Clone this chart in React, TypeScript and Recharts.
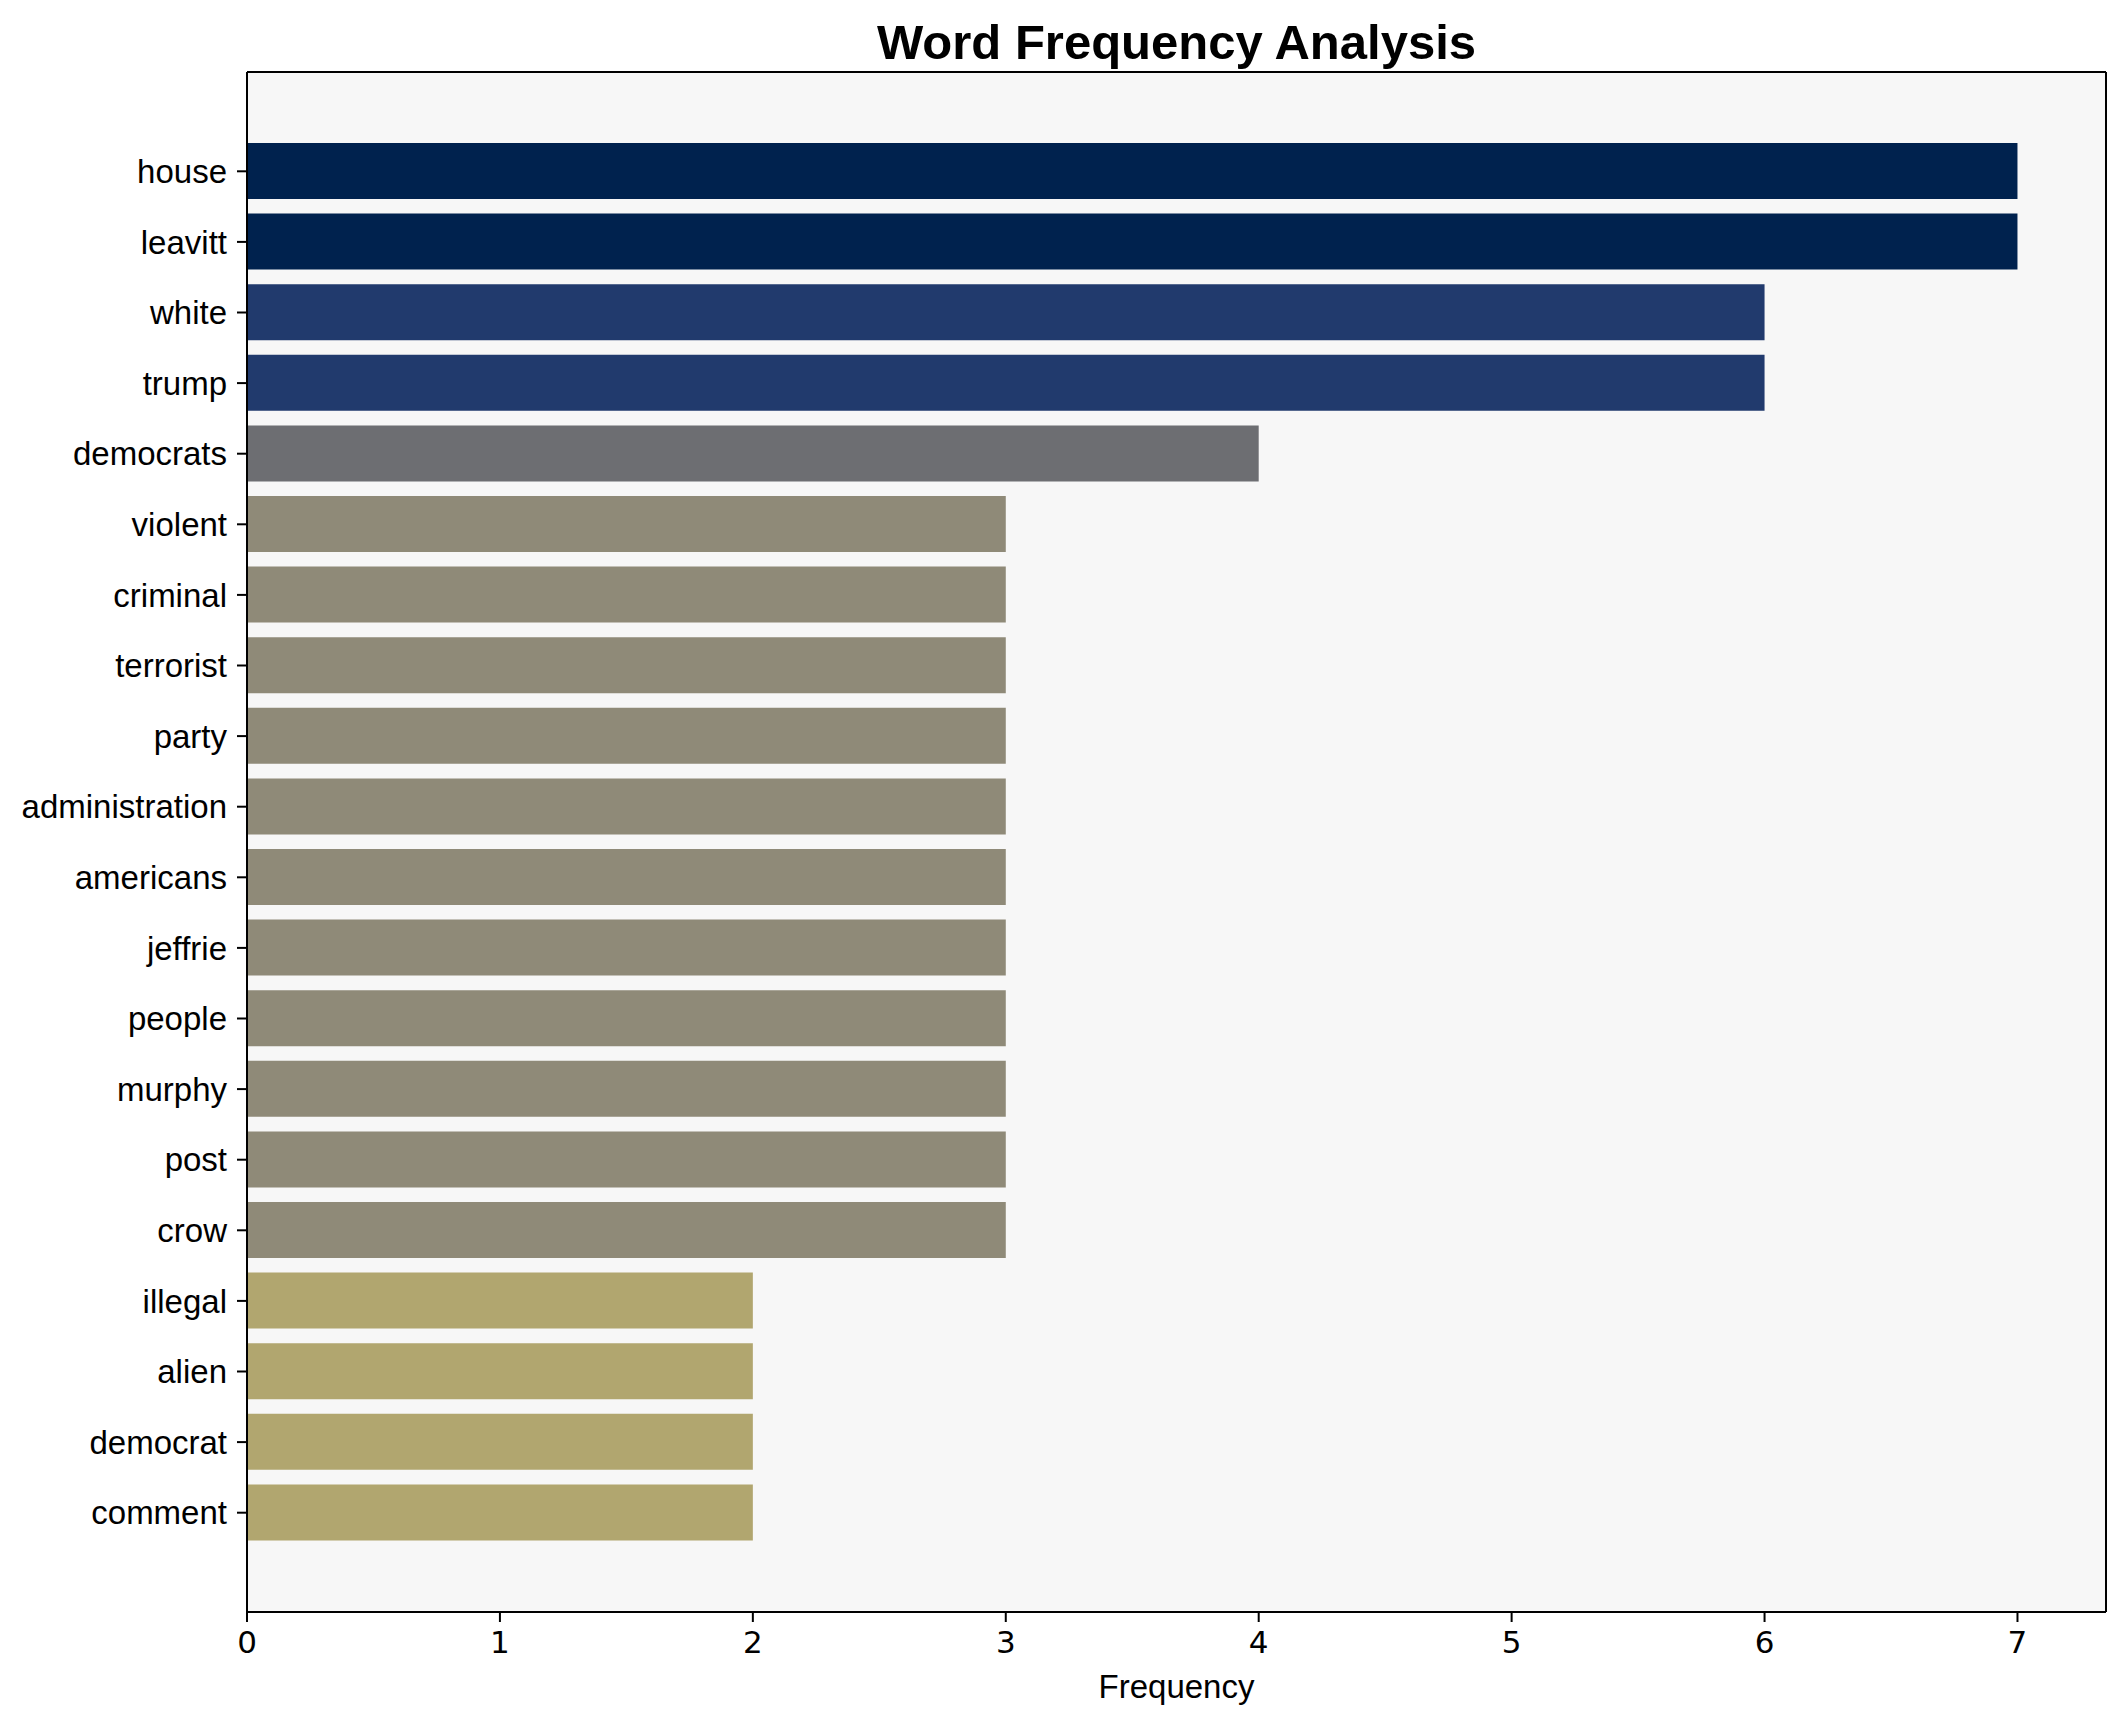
import React from 'react';
import { BarChart, Bar, XAxis, YAxis, CartesianGrid, Cell } from 'recharts';

const words = [
  'house', 'leavitt', 'white', 'trump', 'democrats', 'violent', 'criminal', 'terrorist',
  'party', 'administration', 'americans', 'jeffrie', 'people', 'murphy', 'post', 'crow',
  'illegal', 'alien', 'democrat', 'comment',
];
const counts = [7, 7, 6, 6, 4, 3, 3, 3, 3, 3, 3, 3, 3, 3, 3, 3, 2, 2, 2, 2];
const xTicks = [0, 1, 2, 3, 4, 5, 6, 7];

// colour per frequency value, as in the picture
const COLORS: Record<number, string> = {
  7: '#00224e',
  6: '#213a6d',
  4: '#6d6e72',
  3: '#8f8a78',
  2: '#b1a66f',
};

const data = words.map((word, i) => ({ word, count: counts[i] }));

const W = 2126;
const H = 1722;
const FRAME = '#000';

const App: React.FC = () => {
  return (
    <div style={{ position: 'absolute', left: 0, top: 0, width: W, height: H, background: '#fff' }}>
      <div
        style={{
          position: 'absolute',
          left: 247,
          width: 2106 - 247,
          top: 18,
          textAlign: 'center',
          fontFamily: '"Liberation Sans", Arial, sans-serif',
          fontWeight: 'bold',
          fontSize: 49,
          lineHeight: '49px',
          color: '#000',
        }}
      >
        Word Frequency Analysis
      </div>
      <BarChart
        width={W}
        height={H}
        data={data}
        layout="vertical"
        margin={{ top: 71, right: 19, bottom: 0, left: 0 }}
        barSize={56}
      >
        <CartesianGrid fill="#f7f7f7" horizontal={false} vertical={false} />
        <XAxis
          type="number"
          dataKey="count"
          domain={[0, 7.35]}
          ticks={xTicks}
          allowDataOverflow
          height={110}
          axisLine={{ stroke: FRAME, strokeWidth: 2 }}
          tickLine={{ stroke: FRAME, strokeWidth: 2 }}
          tickSize={10}
          tickMargin={9}
          tick={{ fill: '#000', fontSize: 31, fontFamily: '"DejaVu Sans", sans-serif' }}
          label={{
            value: 'Frequency',
            position: 'insideBottom',
            offset: 24,
            fill: '#000',
            fontSize: 33,
            fontFamily: '"Liberation Sans", Arial, sans-serif',
          }}
        />
        {/* top and right edges of the frame */}
        <XAxis
          xAxisId="top"
          orientation="top"
          type="number"
          domain={[0, 7.35]}
          height={1}
          tick={false}
          tickLine={false}
          axisLine={{ stroke: FRAME, strokeWidth: 2 }}
        />
        <YAxis
          type="category"
          dataKey="word"
          width={247}
          padding={{ top: 64, bottom: 64 }}
          interval={0}
          axisLine={{ stroke: FRAME, strokeWidth: 2 }}
          tickLine={{ stroke: FRAME, strokeWidth: 2 }}
          tickSize={10}
          tickMargin={10}
          tick={{ fill: '#000', fontSize: 33, fontFamily: '"Liberation Sans", Arial, sans-serif' }}
        />
        <YAxis
          yAxisId="right"
          orientation="right"
          type="category"
          dataKey="word"
          width={1}
          tick={false}
          tickLine={false}
          axisLine={{ stroke: FRAME, strokeWidth: 2 }}
        />
        <Bar dataKey="count" isAnimationActive={false}>
          {data.map((entry, index) => (
            <Cell key={`cell-${index}`} fill={COLORS[entry.count]} />
          ))}
        </Bar>
      </BarChart>
    </div>
  );
};

export default App;
